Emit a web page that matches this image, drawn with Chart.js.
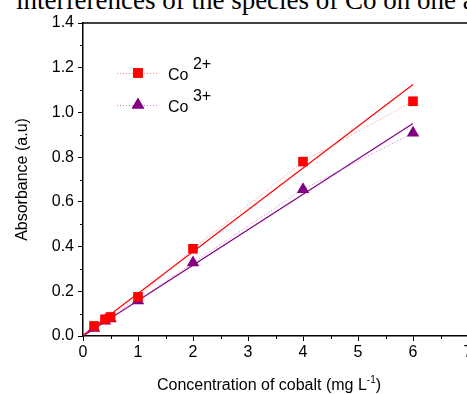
<!DOCTYPE html>
<html lang="en">
<head>
  <meta charset="UTF-8" />
  <title>Absorbance vs cobalt concentration</title>
  <style>
    html, body {
      margin: 0;
      padding: 0;
      background: #fff;
    }
    #wrap {
      position: relative;
      width: 467px;
      height: 394px;
      overflow: hidden;
      background: #fff;
    }
    #caption {
      position: absolute;
      left: 16px;
      top: -13px;
      font-family: 'Liberation Serif', 'Times New Roman', serif;
      font-size: 27px;
      line-height: 27px;
      white-space: nowrap;
      color: #000;
    }
    #chart {
      position: absolute;
      left: 0;
      top: 0;
    }
  </style>
</head>
<body>

<div id="wrap">
  <div id="caption">interferences of the species of Co on one and the other</div>
  <canvas id="chart" width="520" height="394"></canvas>
</div>

<script src="https://cdn.jsdelivr.net/npm/chart.js"></script>
<script>
  // values
  const concentration = [0.2, 0.4, 0.5, 1, 2, 4, 6];
  const absCo2 = [0.045, 0.075, 0.085, 0.175, 0.39, 0.78, 1.05];
  const absCo3 = [0.035, 0.068, 0.078, 0.158, 0.328, 0.656, 0.908];

  // linear fit lines
  const fitX = [0, 6];
  const fitCo2 = [0.003, 1.125];
  const fitCo3 = [0.0, 0.95];

  const xTicks = [0, 1, 2, 3, 4, 5, 6, 7];
  const yTicks = [0.0, 0.2, 0.4, 0.6, 0.8, 1.0, 1.2, 1.4];

  const FONT = 'Arial, "Liberation Sans", sans-serif';
  const RED = '#ff0000';
  const PURPLE = '#800080';

  function pts(xs, ys) {
    return xs.map((x, i) => ({ x: x, y: ys[i] }));
  }

  // minor ticks, box frame, legend with superscripts, x title
  const extras = {
    id: 'extras',
    afterDraw(chart) {
      const ctx = chart.ctx;
      const area = chart.chartArea;
      const xs = chart.scales.x;
      const ys = chart.scales.y;
      ctx.save();

      // frame top + right
      ctx.strokeStyle = '#000';
      ctx.lineWidth = 1.5;
      ctx.beginPath();
      ctx.moveTo(area.left, area.top);
      ctx.lineTo(area.right, area.top);
      ctx.lineTo(area.right, area.bottom);
      ctx.stroke();

      // minor ticks
      ctx.lineWidth = 1;
      ctx.beginPath();
      for (let i = 0; i < xTicks.length - 1; i++) {
        const px = Math.round(xs.getPixelForValue(xTicks[i] + 0.5)) + 0.5;
        ctx.moveTo(px, area.bottom);
        ctx.lineTo(px, area.bottom + 3);
      }
      for (let i = 0; i < yTicks.length - 1; i++) {
        const py = Math.round(ys.getPixelForValue(yTicks[i] + 0.1)) + 0.5;
        ctx.moveTo(area.left, py);
        ctx.lineTo(area.left - 3, py);
      }
      ctx.stroke();

      // legend
      const rows = [
        { ds: chart.data.datasets[0], name: 'Co', sup: '2+', y: 73 },
        { ds: chart.data.datasets[1], name: 'Co', sup: '3+', y: 105 }
      ];
      rows.forEach(r => {
        ctx.strokeStyle = r.ds.borderColor;
        ctx.lineWidth = 1;
        ctx.setLineDash([1, 2]);
        ctx.beginPath();
        ctx.moveTo(117, r.y + 0.5);
        ctx.lineTo(157, r.y + 0.5);
        ctx.stroke();
        ctx.setLineDash([]);
        ctx.fillStyle = r.ds.pointBackgroundColor;
        Chart.helpers.drawPoint(ctx, {
          pointStyle: r.ds.pointStyle,
          radius: r.ds.pointRadius,
          borderWidth: 0
        }, 138, r.y);
        ctx.fill();

        ctx.fillStyle = '#000';
        ctx.font = '16px ' + FONT;
        ctx.textBaseline = 'alphabetic';
        ctx.textAlign = 'left';
        ctx.fillText(r.name, 168, r.y + 7);
        const w = ctx.measureText(r.name + ' ').width;
        ctx.fillText(r.sup, 168 + w, r.y - 4);
      });

      // x axis title with superscript
      const main = 'Concentration of cobalt (mg L';
      const sup = '-1';
      const tail = ')';
      ctx.font = '16px ' + FONT;
      const w1 = ctx.measureText(main).width;
      const w3 = ctx.measureText(tail).width;
      ctx.font = '10px ' + FONT;
      const w2 = ctx.measureText(sup).width;
      let x0 = 269 - (w1 + w2 + w3) / 2;
      const base = 390;
      ctx.fillStyle = '#000';
      ctx.font = '16px ' + FONT;
      ctx.fillText(main, x0, base);
      ctx.font = '10px ' + FONT;
      ctx.fillText(sup, x0 + w1, base - 7);
      ctx.font = '16px ' + FONT;
      ctx.fillText(tail, x0 + w1 + w2, base);

      ctx.restore();
    }
  };

  const ctx = document.getElementById('chart').getContext('2d');
  new Chart(ctx, {
    type: 'scatter',
    data: {
      datasets: [
        {
          label: 'Co2+',
          data: pts(concentration, absCo2),
          showLine: true,
          borderColor: 'rgba(255, 90, 90, 0.75)',
          borderWidth: 1,
          borderDash: [1, 2],
          pointStyle: 'rect',
          pointRadius: 6.8,
          pointBackgroundColor: RED,
          pointBorderWidth: 0,
          order: 1
        },
        {
          label: 'Co3+',
          data: pts(concentration, absCo3),
          showLine: true,
          borderColor: 'rgba(190, 90, 190, 0.8)',
          borderWidth: 1,
          borderDash: [1, 2],
          pointStyle: 'triangle',
          pointRadius: 7.2,
          pointBackgroundColor: PURPLE,
          pointBorderWidth: 0,
          order: 1
        },
        {
          label: 'fit Co2+',
          data: pts(fitX, fitCo2),
          showLine: true,
          borderColor: RED,
          borderWidth: 1.2,
          pointRadius: 0,
          order: 2
        },
        {
          label: 'fit Co3+',
          data: pts(fitX, fitCo3),
          showLine: true,
          borderColor: PURPLE,
          borderWidth: 1.2,
          pointRadius: 0,
          order: 2
        }
      ]
    },
    options: {
      responsive: false,
      animation: false,
      devicePixelRatio: 1,
      layout: {
        padding: { left: 0, top: 23, right: 52, bottom: 0 }
      },
      plugins: {
        legend: { display: false },
        tooltip: { enabled: false }
      },
      scales: {
        x: {
          type: 'linear',
          min: 0,
          max: 7,
          afterFit: s => { s.height = 58; },
          afterBuildTicks: s => { s.ticks = xTicks.map(v => ({ value: v })); },
          ticks: {
            color: '#000',
            font: { family: FONT, size: 16 },
            padding: 2,
            maxRotation: 0,
            callback: v => String(v)
          },
          grid: {
            drawOnChartArea: false,
            tickLength: 5,
            tickColor: '#000',
            tickWidth: 1
          },
          border: { color: '#000', width: 1.5 }
        },
        y: {
          type: 'linear',
          min: 0,
          max: 1.4,
          afterFit: s => { s.width = 83; },
          afterBuildTicks: s => { s.ticks = yTicks.map(v => ({ value: v })); },
          ticks: {
            color: '#000',
            font: { family: FONT, size: 16 },
            padding: 4,
            callback: v => Number(v).toFixed(1)
          },
          grid: {
            drawOnChartArea: false,
            tickLength: 5,
            tickColor: '#000',
            tickWidth: 1
          },
          border: { color: '#000', width: 1.5 },
          title: {
            display: true,
            text: 'Absorbance (a.u)',
            color: '#000',
            font: { family: FONT, size: 16 },
            padding: { top: 13, bottom: 0 }
          }
        }
      }
    },
    plugins: [extras]
  });
</script>
</body>
</html>
